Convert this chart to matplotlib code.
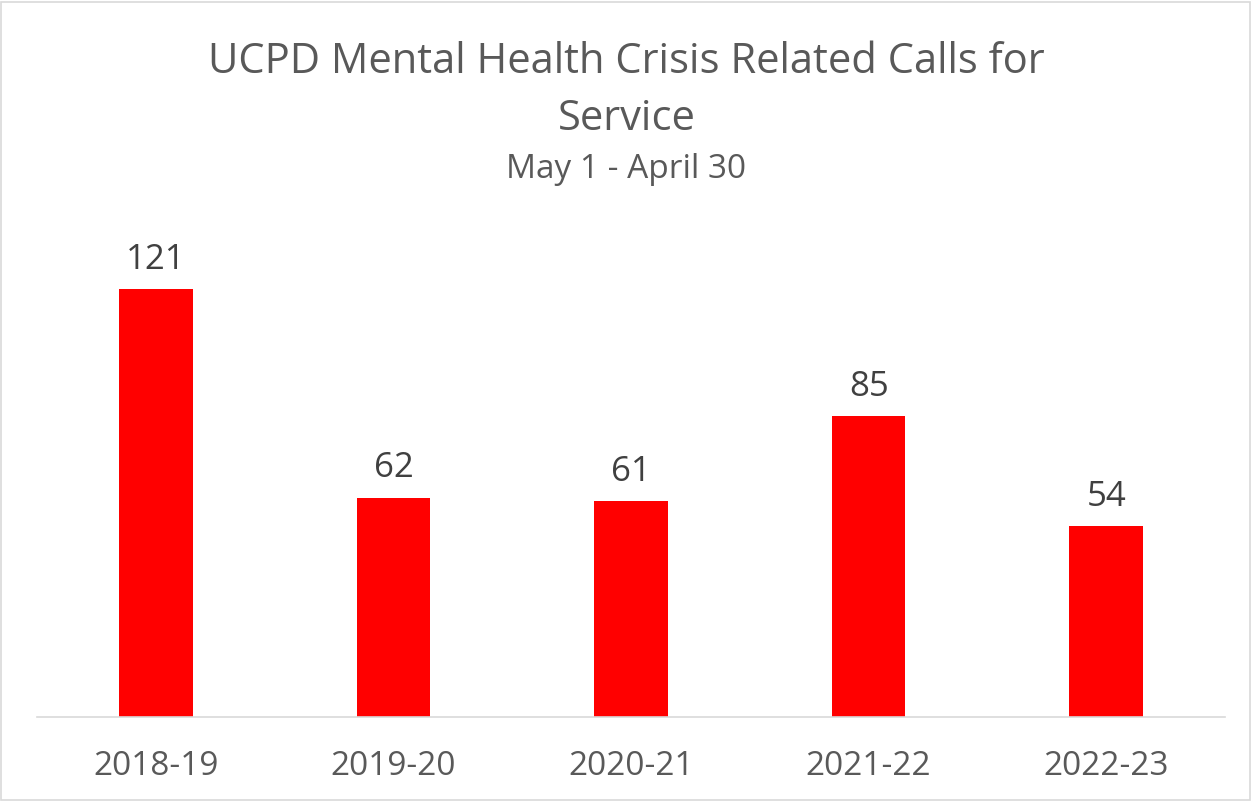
import matplotlib
matplotlib.use("Agg")
import matplotlib.pyplot as plt
from matplotlib.patches import Rectangle

categories = ["2018-19", "2019-20", "2020-21", "2021-22", "2022-23"]
values = [121, 62, 61, 85, 54]

plt.rcParams['font.family'] = ['Open Sans', 'DejaVu Sans']

fig = plt.figure(figsize=(12.53, 8.01), dpi=100)
ax = fig.add_axes([0.0295, 0.1049, 0.9482, 0.6179])
x = range(len(categories))
ax.bar(x, values, width=0.31, color='#FF0000', zorder=2)
for xi, v in zip(x, values):
    ax.text(xi, v + 3.5, str(v), ha='center', va='bottom', fontsize=25, color='#404040')
ax.set_xlim(-0.5, 4.5)
ax.set_ylim(0, 140)
ax.set_xticks(list(x))
ax.set_xticklabels(categories, fontsize=24, color='#595959')
ax.tick_params(axis='x', length=0, pad=24)
ax.set_yticks([])
for s in ['top', 'right', 'left']:
    ax.spines[s].set_visible(False)
ax.spines['bottom'].set_color('#D9D9D9')
ax.spines['bottom'].set_linewidth(1.2)

fig.text(0.5, 0.923, "UCPD Mental Health Crisis Related Calls for", ha='center', va='center',
         fontsize=30, color='#595959')
fig.text(0.5, 0.851, "Service", ha='center', va='center', fontsize=30, color='#595959')
fig.text(0.5, 0.789, "May 1 - April 30", ha='center', va='center', fontsize=24, color='#595959')

fig.patches.append(Rectangle((0.001, 0.001), 0.997, 0.997, transform=fig.transFigure,
                             fill=False, edgecolor='#D9D9D9', linewidth=1.2))
fig.savefig("out.png", dpi=100)
